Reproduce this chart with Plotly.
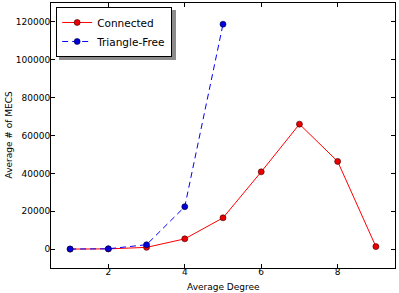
import plotly.graph_objects as go

degree_connected = [1, 2, 3, 4, 5, 6, 7, 8, 9]
mecs_connected = [0, 100, 900, 5400, 16500, 40800, 66000, 46300, 1300]
degree_trifree = [1, 2, 3, 4, 5]
mecs_trifree = [0, 150, 2300, 22400, 118800]
x_ticks = [2, 4, 6, 8]
y_ticks = [0, 20000, 40000, 60000, 80000, 100000, 120000]

fig = go.Figure()
fig.add_trace(go.Scatter(
    x=degree_connected, y=mecs_connected, mode="lines+markers", name="Connected",
    line=dict(color="#ff0000", width=1),
    marker=dict(color="#ee0000", size=6, line=dict(color="#330000", width=0.6)),
))
fig.add_trace(go.Scatter(
    x=degree_trifree, y=mecs_trifree, mode="lines+markers", name="Triangle-Free",
    line=dict(color="#0000ff", width=1, dash="6px,4px"),
    marker=dict(color="#0000dd", size=6, line=dict(color="#000033", width=0.6)),
))

axis_common = dict(
    showline=True, linecolor="black", linewidth=1, mirror="ticks",
    ticks="inside", ticklen=4, tickcolor="black", showgrid=False, zeroline=False,
    tickfont=dict(family="DejaVu Sans", size=9, color="black"),
)
fig.update_xaxes(range=[0.5, 9.5], tickvals=x_ticks, ticklabelstandoff=-5, **axis_common)
fig.update_yaxes(range=[-10000, 130000], tickvals=y_ticks, tickformat="d",
                 ticklabelstandoff=-2, **axis_common)

title_font = dict(family="DejaVu Sans", size=9, color="black")
fig.update_layout(
    width=399, height=293,
    margin=dict(l=51, r=4, t=3, b=25),
    paper_bgcolor="white", plot_bgcolor="white",
    showlegend=True,
    legend=dict(x=0.015, y=0.985, xanchor="left", yanchor="top",
                bgcolor="white", bordercolor="black", borderwidth=1,
                font=dict(family="DejaVu Sans", size=10.5, color="black"),
                itemwidth=30, tracegroupgap=0),
    shapes=[dict(type="rect", xref="paper", yref="paper",
                 x0=(59 - 51) / 344, x1=(176 - 51) / 344,
                 y0=(268 - 60) / 265, y1=(268 - 10) / 265,
                 fillcolor="#8c8c8c", line=dict(width=0), layer="above")],
    annotations=[
        dict(text="Average Degree", xref="paper", yref="paper", x=0.5, y=-(287 - 268) / 265,
             xanchor="center", yanchor="middle", showarrow=False, font=title_font),
        dict(text="Average # of MECS", xref="paper", yref="paper", x=-(51 - 8) / 344, y=0.5,
             xanchor="center", yanchor="middle", textangle=-90, showarrow=False, font=title_font),
    ],
)

fig.write_html("out.html", config={"displayModeBar": False},
               post_script="document.body.style.margin='0';document.body.style.overflow='hidden';")
